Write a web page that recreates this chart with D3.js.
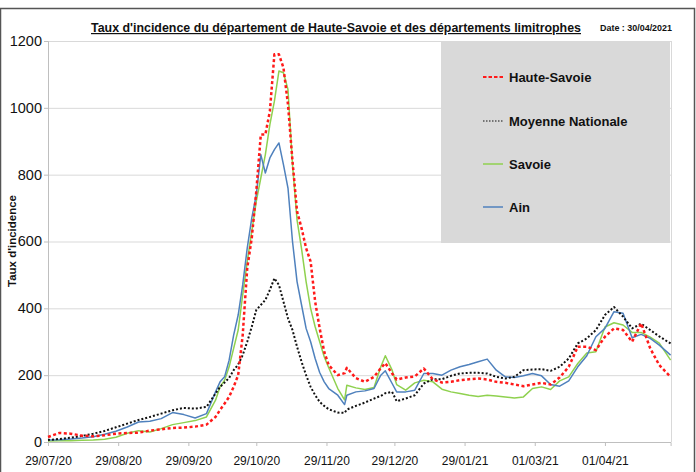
<!DOCTYPE html>
<html>
<head>
<meta charset="utf-8">
<script src="https://cdn.jsdelivr.net/npm/d3@7"></script>
<style>
  body { margin: 0; background: #fff; }
  svg { display: block; font-family: "Liberation Sans", Arial, sans-serif; }
</style>
</head>
<body>
<div id="container"></div>
<script>
// dates of the readings (every few days, denser around the peak)
const dates = [
  "2020-07-29", "2020-08-03", "2020-08-08", "2020-08-13", "2020-08-18", "2020-08-23", "2020-08-28", "2020-09-02",
  "2020-09-07", "2020-09-12", "2020-09-17", "2020-09-22", "2020-09-27", "2020-10-02", "2020-10-07",
  "2020-10-11", "2020-10-13", "2020-10-15", "2020-10-17", "2020-10-19", "2020-10-21", "2020-10-23", "2020-10-25",
  "2020-10-27", "2020-10-29", "2020-10-31", "2020-11-02", "2020-11-04", "2020-11-06", "2020-11-08", "2020-11-10",
  "2020-11-12", "2020-11-14", "2020-11-16", "2020-11-18", "2020-11-20", "2020-11-22", "2020-11-24", "2020-11-26",
  "2020-11-28", "2020-11-30",
  "2020-12-04", "2020-12-07", "2020-12-08", "2020-12-12", "2020-12-16", "2020-12-20", "2020-12-23", "2020-12-25",
  "2020-12-28", "2020-12-30",
  "2021-01-03", "2021-01-07", "2021-01-11", "2021-01-15", "2021-01-19", "2021-01-23", "2021-01-27", "2021-01-31",
  "2021-02-04", "2021-02-08", "2021-02-12", "2021-02-16", "2021-02-20", "2021-02-24", "2021-02-28",
  "2021-03-04", "2021-03-08", "2021-03-12", "2021-03-16", "2021-03-20", "2021-03-24", "2021-03-28",
  "2021-04-01", "2021-04-05", "2021-04-09", "2021-04-13", "2021-04-17", "2021-04-21", "2021-04-25", "2021-04-30"
];

const hauteSavoie = [
  15, 27, 25, 19, 17, 20, 25, 27, 28, 34, 38, 42, 43, 46, 52,
  75, 96, 115, 135, 165, 200, 320, 520, 610, 750, 920, 920, 990, 1160, 1160, 1120, 1010, 840, 690, 640, 580, 540, 420, 340, 270, 230,
  200, 206, 222, 191, 180, 195, 221, 236, 205, 187,
  193, 196, 220, 187, 178, 180, 185, 188,
  190, 187, 180, 177, 172, 167, 172,
  177, 172, 193, 225, 285, 285, 275,
  315, 340, 335, 300, 355, 280, 230, 195
];

const moyenneNationale = [
  6, 9, 13, 18, 25, 33, 44, 55, 66, 75, 85, 95, 102, 100, 105,
  145, 165, 178, 192, 215, 232, 260, 300, 345, 395, 410, 425, 455, 490, 470, 420, 370, 335, 285, 240, 200, 165, 140, 120, 108, 98,
  88, 87, 97, 108, 118, 130, 138, 146, 150, 122,
  130, 140, 175, 188, 188, 198, 205, 207,
  207, 205, 195, 190, 195, 215, 217,
  218, 213, 225, 250, 295, 310, 335,
  380, 404, 375, 340, 354, 335, 316, 295
];

const savoie = [
  3, 4, 4, 5, 6, 8, 14, 26, 34, 30, 40, 52, 58, 64, 75,
  125, 165, 185, 225, 280, 335, 440, 540, 630, 720, 790, 860, 950, 1020, 1110, 1105, 1055, 830, 665, 578, 480, 400, 345, 300, 255, 222,
  160, 126, 170, 162, 157, 163, 225, 258, 215, 172,
  155, 177, 185, 180, 158, 150, 145, 140,
  136, 140, 138, 135, 132, 135, 160,
  165, 157, 183, 195, 235, 266, 270,
  344, 357, 350, 328, 328, 314, 296, 245
];

const ain = [
  6, 7, 9, 12, 16, 23, 32, 45, 60, 62, 70, 88, 82, 72, 85,
  150, 180, 195, 245, 320, 380, 470, 580, 670, 740, 860, 805, 850, 875, 895, 830, 760, 600, 480, 410, 340, 300, 250, 208, 180, 160,
  140, 112, 140, 150, 153, 160, 200, 213, 175, 150,
  150, 155, 205, 205, 200, 215, 225, 232,
  240, 248, 215, 195, 193, 198, 205,
  198, 172, 167, 183, 225, 258, 315,
  340, 390, 385, 312, 322, 310, 290, 260
];

const yTicks = [0, 200, 400, 600, 800, 1000, 1200];
const xTickDates = ["2020-07-29", "2020-08-29", "2020-09-29", "2020-10-29", "2020-11-29", "2020-12-29", "2021-01-29", "2021-03-01", "2021-04-01"];
const xTickLabels = ["29/07/20", "29/08/20", "29/09/20", "29/10/20", "29/11/20", "29/12/20", "29/01/21", "01/03/21", "01/04/21"];

const width = 696, height = 472;
const plot = { left: 48, right: 671, top: 41, bottom: 442 };
const parse = d3.timeParse("%Y-%m-%d");

const svg = d3.select('#container')
  .append('svg')
  .attr('width', width)
  .attr('height', height)
  .attr('viewBox', `0 0 ${width} ${height}`);

svg.append('rect').attr('width', width).attr('height', height).attr('fill', '#fff');

// outer frame
svg.append('rect')
  .attr('x', 0.5).attr('y', 8.5)
  .attr('width', 694).attr('height', 470)
  .attr('fill', 'none')
  .attr('stroke', '#555')
  .attr('stroke-width', 1.5);

const x = d3.scaleTime()
  .domain([parse("2020-07-29"), parse("2021-04-30")])
  .range([plot.left, 670.6]);

const y = d3.scaleLinear()
  .domain([0, 1200])
  .range([plot.bottom, plot.top]);

// gridlines
svg.append('g')
  .selectAll('line')
  .data(yTicks.filter(d => d > 0))
  .join('line')
  .attr('x1', plot.left).attr('x2', plot.right)
  .attr('y1', d => y(d) + 0.5).attr('y2', d => y(d) + 0.5)
  .attr('stroke', '#d9d9d9');

// right edge of the plot area
svg.append('line')
  .attr('x1', plot.right + 0.5).attr('x2', plot.right + 0.5)
  .attr('y1', plot.top).attr('y2', plot.bottom)
  .attr('stroke', '#d9d9d9');

// legend background box
svg.append('rect')
  .attr('x', 441).attr('y', 42)
  .attr('width', 229).attr('height', 201)
  .attr('fill', '#d9d9d9');

// axes
const yAxis = svg.append('g')
  .attr('transform', `translate(${plot.left},0)`)
  .call(d3.axisLeft(y).tickValues(yTicks).tickFormat(d3.format('d')).tickSize(4).tickPadding(2));
yAxis.select('.domain').attr('stroke', '#bfbfbf');
yAxis.selectAll('.tick line').attr('stroke', '#bfbfbf');
yAxis.selectAll('.tick text')
  .attr('font-size', 14.5)
  .attr('font-family', '"Liberation Sans", Arial, sans-serif')
  .attr('fill', '#111')
  .attr('dy', '0.3em');

const xAxis = svg.append('g')
  .attr('transform', `translate(0,${plot.bottom})`)
  .call(d3.axisBottom(x)
    .tickValues(xTickDates.map(parse))
    .tickFormat((d, i) => xTickLabels[i])
    .tickSizeOuter(0)
    .tickSize(4)
    .tickPadding(10));
xAxis.select('.domain').attr('stroke', '#bfbfbf');
xAxis.selectAll('.tick line').attr('stroke', '#bfbfbf');
xAxis.selectAll('.tick text')
  .attr('font-size', 12)
  .attr('font-family', '"Liberation Sans", Arial, sans-serif')
  .attr('fill', '#111');

// series
const series = [
  { name: 'Savoie', values: savoie, color: '#8fd14f', width: 1.5, dash: null },
  { name: 'Ain', values: ain, color: '#4f81bd', width: 1.5, dash: null },
  { name: 'Moyenne Nationale', values: moyenneNationale, color: '#111', width: 2, dash: '2,2' },
  { name: 'Haute-Savoie', values: hauteSavoie, color: '#ff1a1a', width: 2.5, dash: '3,2.5' }
];

const line = d3.line()
  .x(d => x(d.date))
  .y(d => y(d.value));

series.forEach(s => {
  const pts = dates.map((d, i) => ({ date: parse(d), value: s.values[i] }));
  svg.append('path')
    .datum(pts)
    .attr('fill', 'none')
    .attr('stroke', s.color)
    .attr('stroke-width', s.width)
    .attr('stroke-linejoin', 'round')
    .attr('stroke-dasharray', s.dash)
    .attr('d', line);
});

// legend
const legendItems = [
  { name: 'Haute-Savoie', color: '#ff1a1a', width: 2, dash: '3.5,2' },
  { name: 'Moyenne Nationale', color: '#111', width: 1.2, dash: '1.5,1.5' },
  { name: 'Savoie', color: '#8fd14f', width: 1.5, dash: null },
  { name: 'Ain', color: '#4f81bd', width: 1.5, dash: null }
];
const legendY = [77, 121, 164, 207];

const legend = svg.append('g');
legendItems.forEach((item, i) => {
  legend.append('line')
    .attr('x1', 483).attr('x2', 503)
    .attr('y1', legendY[i]).attr('y2', legendY[i])
    .attr('stroke', item.color)
    .attr('stroke-width', item.width)
    .attr('stroke-dasharray', item.dash);
  legend.append('text')
    .attr('x', 509)
    .attr('y', legendY[i])
    .attr('dy', '0.36em')
    .attr('font-size', 13)
    .attr('font-weight', 'bold')
    .attr('fill', '#111')
    .text(item.name);
});

// title
svg.append('text')
  .attr('x', 336)
  .attr('y', 32)
  .attr('text-anchor', 'middle')
  .attr('font-size', 12)
  .attr('font-weight', 'bold')
  .attr('text-decoration', 'underline')
  .attr('textLength', 490)
  .attr('lengthAdjust', 'spacingAndGlyphs')
  .attr('fill', '#111')
  .text("Taux d'incidence du département de Haute-Savoie et des départements limitrophes");

svg.append('text')
  .attr('x', 600)
  .attr('y', 31)
  .attr('font-size', 9.5)
  .attr('font-weight', 'bold')
  .attr('textLength', 72)
  .attr('lengthAdjust', 'spacingAndGlyphs')
  .attr('fill', '#111')
  .text('Date : 30/04/2021');

// y axis title
svg.append('text')
  .attr('transform', 'translate(16,241) rotate(-90)')
  .attr('text-anchor', 'middle')
  .attr('font-size', 11.5)
  .attr('font-weight', 'bold')
  .attr('fill', '#111')
  .text("Taux d'incidence");
</script>
</body>
</html>
